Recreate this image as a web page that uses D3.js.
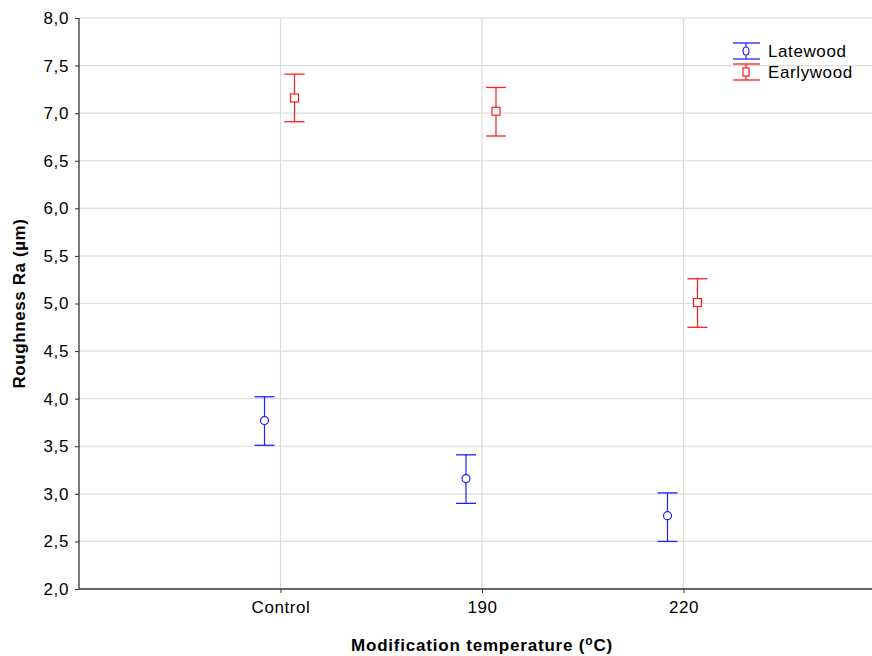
<!DOCTYPE html>
<html>
<head>
<meta charset="utf-8">
<script src="https://cdn.jsdelivr.net/npm/d3@7"></script>
<style>
  body { margin: 0; background: #fff; }
  text { font-family: Arial, "Liberation Sans", sans-serif; }
</style>
</head>
<body>
<svg width="872" height="656"></svg>
<script>
// Data
var categories = ["Control", "190", "220"];
var seriesNames = ["Latewood", "Earlywood"];
var latewoodMean = [3.77, 3.16, 2.77];
var latewoodLow  = [3.51, 2.90, 2.50];
var latewoodHigh = [4.02, 3.41, 3.01];
var earlywoodMean = [7.16, 7.02, 5.01];
var earlywoodLow  = [6.91, 6.76, 4.75];
var earlywoodHigh = [7.41, 7.27, 5.26];
var yTicks = [2, 2.5, 3, 3.5, 4, 4.5, 5, 5.5, 6, 6.5, 7, 7.5, 8];

var svg = d3.select("svg"),
    width = +svg.attr("width"),
    height = +svg.attr("height");

var left = 79, topY = 18, bottom = 589;

// x: categories sit at 1,2,3 on a 0..4 axis
var x = d3.scaleLinear().domain([0, 4]).range([left, left + 4 * 201.5]);
var y = d3.scaleLinear().domain([2, 8]).range([bottom, topY]);

var fmt = function(d) { return d3.format(".1f")(d).replace(".", ","); };

// grid
svg.append("g")
    .selectAll("line")
    .data(yTicks.slice(1))
    .enter()
    .append("line")
    .attr("x1", left).attr("x2", width)
    .attr("y1", function(d){ return y(d) })
    .attr("y2", function(d){ return y(d) })
    .attr("stroke", "#dcdcdc")
    .attr("stroke-width", 1.2);

svg.append("g")
    .selectAll("line")
    .data(categories)
    .enter()
    .append("line")
    .attr("x1", function(d,i){ return x(i+1) })
    .attr("x2", function(d,i){ return x(i+1) })
    .attr("y1", topY).attr("y2", bottom)
    .attr("stroke", "#dcdcdc")
    .attr("stroke-width", 1.2);

// y axis
var yAxis = svg.append("g")
    .attr("transform", "translate(" + left + ",0)")
    .call(d3.axisLeft(y).tickValues(yTicks).tickFormat(fmt).tickSize(4).tickPadding(6));
yAxis.select(".domain").attr("stroke", "#333").attr("stroke-width", 1.3).attr("d", "M0," + topY + "V" + bottom);
yAxis.selectAll(".tick line").attr("stroke", "#333");
yAxis.selectAll("text").style("font-size", "17px").style("letter-spacing", "0.6px").attr("fill", "#000");

// x axis
var xAxis = svg.append("g")
    .attr("transform", "translate(0," + bottom + ")")
    .call(d3.axisBottom(x).tickValues([1, 2, 3]).tickFormat(function(d){ return categories[d-1] }).tickSize(4).tickPadding(8));
xAxis.select(".domain").attr("stroke", "#333").attr("stroke-width", 1.3).attr("d", "M" + left + ",0H" + width);
xAxis.selectAll(".tick line").attr("stroke", "#333");
xAxis.selectAll("text").style("font-size", "17px").style("letter-spacing", "0.6px").attr("fill", "#000");

// series
var series = [
  { name: "Latewood", color: "#2020ff", offset: -16, mean: latewoodMean, low: latewoodLow, high: latewoodHigh, shape: "circle" },
  { name: "Earlywood", color: "#ff1a1a", offset: 14, mean: earlywoodMean, low: earlywoodLow, high: earlywoodHigh, shape: "square" }
];

function drawMarker(g, shape, color, cx, cy) {
  if (shape === "circle") {
    g.append("circle").attr("cx", cx).attr("cy", cy).attr("r", 4)
      .attr("fill", "none").attr("stroke", color).attr("stroke-width", 1.2);
  } else {
    g.append("rect").attr("x", cx - 4).attr("y", cy - 4).attr("width", 8).attr("height", 8)
      .attr("fill", "none").attr("stroke", color).attr("stroke-width", 1.2);
  }
}

series.forEach(function(s) {
  var g = svg.append("g");
  categories.forEach(function(c, i) {
    var cx = x(i + 1) + s.offset;
    g.append("line").attr("x1", cx).attr("x2", cx)
      .attr("y1", y(s.high[i])).attr("y2", y(s.low[i]) )
      .attr("stroke", s.color).attr("stroke-width", 1.2);
    [s.high[i], s.low[i]].forEach(function(v) {
      g.append("line").attr("x1", cx - 10).attr("x2", cx + 10)
        .attr("y1", y(v)).attr("y2", y(v))
        .attr("stroke", s.color).attr("stroke-width", 1.3);
    });
    g.append("rect").attr("x", cx - 4).attr("y", y(s.mean[i]) - 4).attr("width", 8).attr("height", 8).attr("fill", "#fff");
    drawMarker(g, s.shape, s.color, cx, y(s.mean[i]));
  });
});

// legend
var legend = svg.append("g");
series.forEach(function(s, i) {
  var cy = 51 + i * 21, cx = 746;
  legend.append("line").attr("x1", cx).attr("x2", cx).attr("y1", cy - 8).attr("y2", cy + 8)
    .attr("stroke", s.color).attr("stroke-width", 1.2);
  legend.append("line").attr("x1", cx - 13).attr("x2", cx + 14).attr("y1", cy - 8).attr("y2", cy - 8)
    .attr("stroke", s.color).attr("stroke-width", 1.3);
  legend.append("line").attr("x1", cx - 13).attr("x2", cx + 14).attr("y1", cy + 8).attr("y2", cy + 8)
    .attr("stroke", s.color).attr("stroke-width", 1.3);
  legend.append("rect").attr("x", cx - 3).attr("y", cy - 4).attr("width", 6).attr("height", 8).attr("fill", "#fff");
  if (s.shape === "circle") {
    legend.append("ellipse").attr("cx", cx).attr("cy", cy).attr("rx", 3).attr("ry", 4)
      .attr("fill", "none").attr("stroke", s.color).attr("stroke-width", 1.2);
  } else {
    legend.append("rect").attr("x", cx - 3).attr("y", cy - 4).attr("width", 6).attr("height", 8)
      .attr("fill", "none").attr("stroke", s.color).attr("stroke-width", 1.2);
  }
  legend.append("text").attr("x", 768).attr("y", cy).attr("dy", "0.35em")
    .style("font-size", "17px").style("letter-spacing", "0.6px").text(s.name);
});

// titles
svg.append("text")
    .attr("transform", "translate(25," + ((topY + bottom) / 2) + ") rotate(-90)")
    .attr("text-anchor", "middle")
    .style("font-size", "17px").style("font-weight", "bold").style("letter-spacing", "0.6px")
    .text("Roughness Ra (µm)");

var xt = svg.append("text")
    .attr("x", 482).attr("y", 651)
    .attr("text-anchor", "middle")
    .style("font-size", "17px").style("font-weight", "bold").style("letter-spacing", "0.8px");
xt.append("tspan").text("Modification temperature (");
xt.append("tspan").attr("dy", -6).style("font-size", "12px").text("o");
xt.append("tspan").attr("dy", 6).text("C)");
</script>
</body>
</html>
